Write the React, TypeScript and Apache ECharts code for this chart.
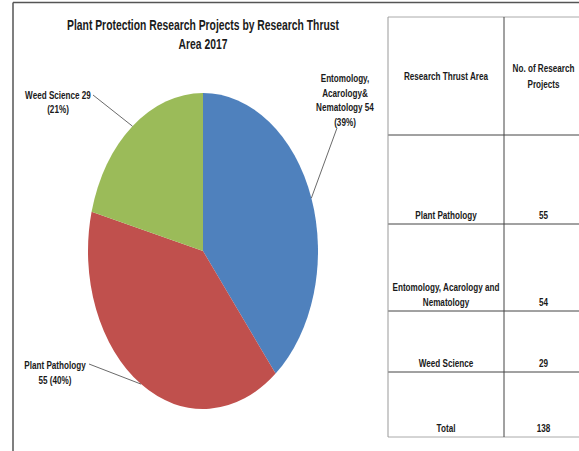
import React, { useEffect, useRef } from "react";
import * as echarts from "echarts";

// ---- data ----
const sliceNames = ["Entomology,\nAcarology&\nNematology", "Plant Pathology", "Weed Science"];
const sliceValues = [54, 55, 29];
const sliceValueOnNewLine = [false, true, false];
const sliceColors = ["#4F81BD", "#C0504D", "#9BBB59"];

const titleText = "Plant Protection Research Projects by Research Thrust\nArea 2017";

const tableHeaders = ["Research Thrust Area", "No. of Research\nProjects"];
const tableAreas = ["Plant Pathology", "Entomology, Acarology and\nNematology", "Weed Science"];
const tableCounts = [55, 54, 29];
const totalLabel = "Total";

// ---- layout ----
const FONT = "'Liberation Sans', Arial, sans-serif";
const TEXT_SCALE_X = 0.74;
const TEXT_COLOR = "#1a1a1a";
const PIE_CENTER = [203, 251];
const PIE_RX = 115;
const PIE_RY = 158;
const labelLayout = [
  { x: 345, y: 70.5, lineHeight: 14.7, anchor: [337, 128] },
  { x: 55, y: 357.5, lineHeight: 15, anchor: [89, 364] },
  { x: 58, y: 88.5, lineHeight: 13.5, anchor: [93, 95] },
];
const tableRowY = [17, 135, 224, 311, 372, 437];
const tableColX = [388, 504, 583];

export default function App() {
  const ref = useRef<HTMLDivElement>(null);

  useEffect(() => {
    if (!ref.current) return;
    const chart = echarts.init(ref.current, undefined, { renderer: "svg" });

    const total = sliceValues.reduce((a, b) => a + b, 0);
    let acc = 0;
    const pieData = sliceValues.map((v) => {
      const d = [1, acc, acc + v];
      acc += v;
      return d;
    });
    const labelTexts = sliceValues.map((v, i) => {
      const pct = Math.round((v / total) * 100);
      return sliceValueOnNewLine[i]
        ? `${sliceNames[i]}\n${v} (${pct}%)`
        : `${sliceNames[i]} ${v}\n(${pct}%)`;
    });

    const sy = PIE_RY / PIE_RX;

    const renderItem = (params: any, api: any) => {
      const i = params.dataIndex;
      const cs = params.coordSys;
      const cx = cs.cx;
      const cy = cs.cy;
      const r = cs.r;
      const s = api.value(1);
      const e = api.value(2);
      const p0 = api.coord([1, s]);
      const p1 = api.coord([1, e]);
      const pm = api.coord([1, (s + e) / 2]);
      const a0 = Math.atan2(p0[1] - cy, p0[0] - cx);
      let a1 = Math.atan2(p1[1] - cy, p1[0] - cx);
      if (a1 <= a0 + 1e-6) a1 += Math.PI * 2;
      const edge = [pm[0], cy + (pm[1] - cy) * sy];
      const lay = labelLayout[i];
      return {
        type: "group",
        children: [
          {
            type: "sector",
            shape: { cx, cy, r0: 0, r, startAngle: a0, endAngle: a1, clockwise: true },
            originX: cx,
            originY: cy,
            scaleY: sy,
            style: { fill: sliceColors[i] },
          },
          {
            type: "polyline",
            shape: { points: [lay.anchor, edge] },
            style: { stroke: "#444", lineWidth: 0.8, fill: null },
          },
          {
            type: "text",
            x: lay.x,
            y: lay.y,
            scaleX: TEXT_SCALE_X,
            style: {
              text: labelTexts[i],
              fill: TEXT_COLOR,
              fontFamily: FONT,
              fontSize: 11,
              fontWeight: "bold",
              align: "center",
              verticalAlign: "top",
              lineHeight: lay.lineHeight,
            },
          },
        ],
      };
    };

    const graphics: any[] = [];
    // title
    graphics.push({
      type: "text",
      x: PIE_CENTER[0],
      y: 35,
      scaleX: TEXT_SCALE_X,
      style: {
        text: titleText,
        fill: TEXT_COLOR,
        fontFamily: FONT,
        fontSize: 14,
        fontWeight: "bold",
        align: "center",
        verticalAlign: "middle",
        lineHeight: 19.5,
      },
    });
    // outer frame
    graphics.push({ type: "line", shape: { x1: 13, y1: 2.5, x2: 579, y2: 2.5 }, style: { stroke: "#555", lineWidth: 1.5 } });
    graphics.push({ type: "line", shape: { x1: 13, y1: 2.5, x2: 13, y2: 451 }, style: { stroke: "#555", lineWidth: 1.5 } });
    // table horizontal lines
    tableRowY.forEach((y, k) => {
      const edgeLine = k === 0 || k === tableRowY.length - 1;
      graphics.push({
        type: "line",
        shape: { x1: tableColX[0], y1: y, x2: 579, y2: y },
        style: { stroke: edgeLine ? "#aaa" : "#444", lineWidth: 1 },
      });
    });
    // table vertical lines
    [tableColX[0], tableColX[1]].forEach((x, k) => {
      graphics.push({
        type: "line",
        shape: { x1: x, y1: tableRowY[0], x2: x, y2: tableRowY[tableRowY.length - 1] },
        style: { stroke: k === 0 ? "#999" : "#444", lineWidth: 1 },
      });
    });
    const cellText = (text: string, col: number, row: number, header: boolean) => {
      const xc = (tableColX[col] + tableColX[col + 1]) / 2;
      const top = tableRowY[row];
      const bottom = tableRowY[row + 1];
      graphics.push({
        type: "text",
        x: xc,
        y: header ? (top + bottom) / 2 : bottom - 1,
        scaleX: TEXT_SCALE_X,
        style: {
          text,
          fill: TEXT_COLOR,
          fontFamily: FONT,
          fontSize: 11,
          fontWeight: "bold",
          align: "center",
          verticalAlign: header ? "middle" : "bottom",
          lineHeight: 15.5,
        },
      });
    };
    tableHeaders.forEach((h, c) => cellText(h, c, 0, true));
    tableAreas.forEach((a, r) => {
      cellText(a, 0, r + 1, false);
      cellText(String(tableCounts[r]), 1, r + 1, false);
    });
    cellText(totalLabel, 0, tableAreas.length + 1, false);
    cellText(String(tableCounts.reduce((a, b) => a + b, 0)), 1, tableAreas.length + 1, false);

    chart.setOption({
      animation: false,
      backgroundColor: "#ffffff",
      polar: { center: PIE_CENTER, radius: PIE_RX },
      angleAxis: { type: "value", min: 0, max: total, startAngle: 90, clockwise: true, show: false },
      radiusAxis: { type: "value", min: 0, max: 1, show: false },
      series: [
        {
          type: "custom",
          coordinateSystem: "polar",
          encode: { radius: 0, angle: 1 },
          data: pieData,
          renderItem,
          silent: true,
          clip: false,
        },
      ],
      graphic: graphics,
    });

    return () => chart.dispose();
  }, []);

  return (
    <div
      ref={ref}
      style={{ position: "fixed", left: 0, top: 0, width: 579, height: 451, background: "#fff" }}
    />
  );
}
